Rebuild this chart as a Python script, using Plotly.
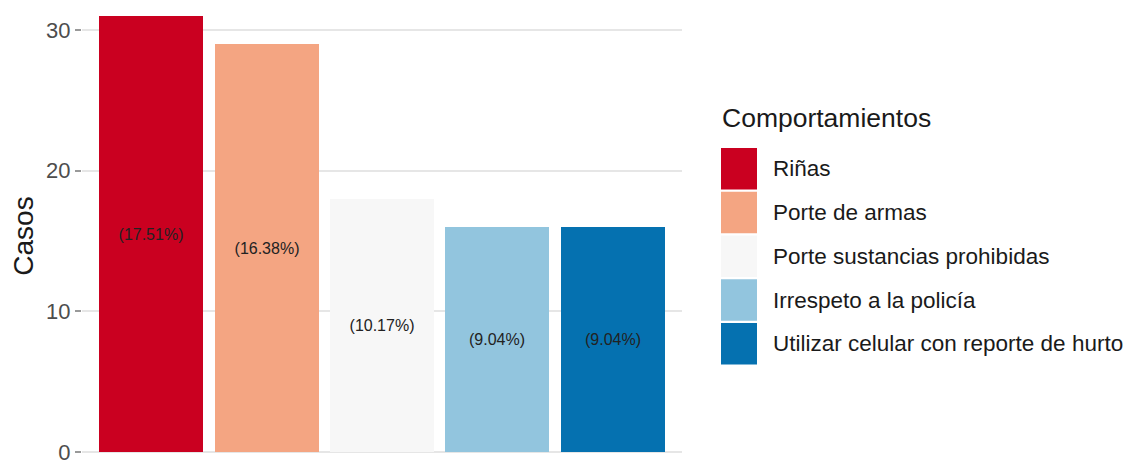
import plotly.graph_objects as go

categories = ["Riñas", "Porte de armas", "Porte sustancias prohibidas",
              "Irrespeto a la policía", "Utilizar celular con reporte de hurto"]
casos = [31, 29, 18, 16, 16]
labels = ["(17.51%)", "(16.38%)", "(10.17%)", "(9.04%)", "(9.04%)"]
colors = ["#CA0020", "#F4A582", "#F7F7F7", "#92C5DE", "#0571B0"]
y_ticks = [0, 10, 20, 30]
legend_title = "Comportamientos"
y_title = "Casos"

PAGE_W, PAGE_H = 1135, 464
OFF = 8  # browser body margin
W, H = PAGE_W - OFF, PAGE_H - OFF
L, R = 82, 682  # plot area in page pixels
FONT = "Liberation Sans, Arial, sans-serif"

fig = go.Figure()
fig.add_trace(go.Bar(
    x=list(range(len(categories))),
    y=casos,
    width=0.9,
    marker=dict(color=colors, line=dict(width=0)),
    text=labels,
    textposition="inside",
    insidetextanchor="middle",
    textangle=0,
    textfont=dict(family=FONT, size=16, color="#222222"),
    showlegend=False,
    hoverinfo="skip",
))

def px_x(px):
    return (px - L) / (R - L)

def px_y(py):
    return (PAGE_H - py) / H

shapes = []
annotations = []
annotations.append(dict(
    x=px_x(720), y=px_y(118), xref="paper", yref="paper",
    text=legend_title, showarrow=False, xanchor="left", yanchor="middle",
    font=dict(family=FONT, size=26.5, color="#1a1a1a"),
))
key_top0, pitch, key_h = 148, 43.75, 41.5
for i, (cat, col) in enumerate(zip(categories, colors)):
    top = key_top0 + i * pitch
    shapes.append(dict(
        type="rect", xref="paper", yref="paper",
        x0=px_x(721), x1=px_x(757), y0=px_y(top + key_h), y1=px_y(top),
        fillcolor=col, line=dict(width=0), layer="above",
    ))
    annotations.append(dict(
        x=px_x(771), y=px_y(top + key_h / 2), xref="paper", yref="paper",
        text=cat, showarrow=False, xanchor="left", yanchor="middle",
        font=dict(family=FONT, size=22.5, color="#1a1a1a"),
    ))

fig.update_layout(
    width=W, height=H,
    margin=dict(l=L - OFF, r=PAGE_W - R, t=0, b=0),
    paper_bgcolor="white", plot_bgcolor="white",
    font=dict(family=FONT),
    shapes=shapes, annotations=annotations,
    bargap=0,
    xaxis=dict(range=[-0.6, 4.6], showgrid=False, zeroline=False,
               showticklabels=False, ticks="", showline=False, fixedrange=True),
    yaxis=dict(range=[-0.85, 31.56], tickvals=y_ticks, ticktext=[str(v) for v in y_ticks],
               showgrid=True, gridcolor="#e6e6e6", gridwidth=2, zeroline=False,
               ticks="outside", ticklen=6, tickcolor="#999999", tickwidth=1.5,
               tickfont=dict(family=FONT, size=22, color="#4d4d4d"),
               ticklabeloverflow="allow",
               title=dict(text=y_title, font=dict(family=FONT, size=28, color="#1a1a1a"),
                          standoff=14),
               automargin=False, showline=False),
)

fig.write_html("out.html")
